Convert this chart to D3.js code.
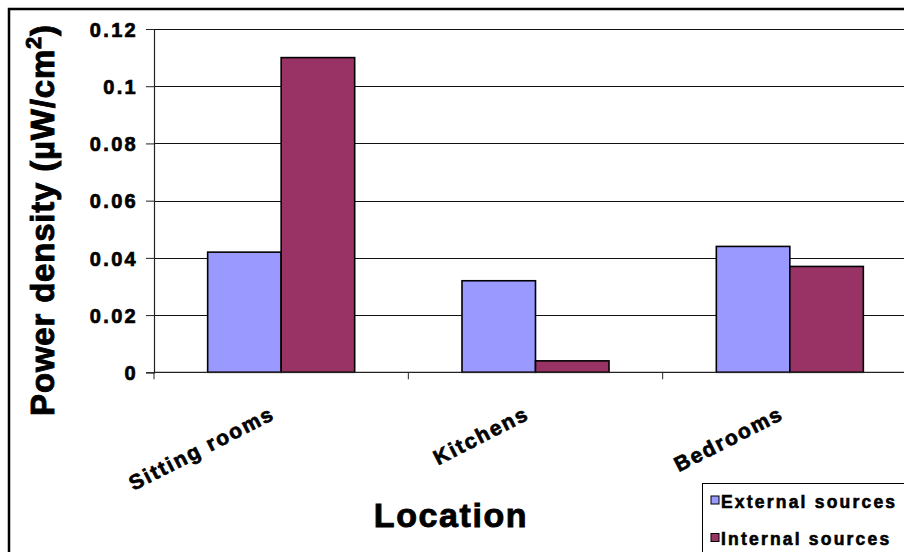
<!DOCTYPE html>
<html>
<head>
<meta charset="utf-8">
<script src="https://cdn.jsdelivr.net/npm/d3@7/dist/d3.min.js"></script>
<style>
  html, body { margin: 0; padding: 0; background: #fff; }
  svg { display: block; font-family: "Liberation Sans", Arial, sans-serif; }
  .heavy { font-weight: bold; fill: #000; stroke: #000; paint-order: stroke; }
</style>
</head>
<body>
<svg id="chart" width="904" height="552"></svg>
<script>
// Power density by location and source
const categories = ["Sitting rooms", "Kitchens", "Bedrooms"];
const seriesNames = ["External sources", "Internal sources"];
const externalValues = [0.042, 0.032, 0.044];
const internalValues = [0.110, 0.004, 0.037];
const yTicks = [0, 0.02, 0.04, 0.06, 0.08, 0.1, 0.12];
const seriesColors = ["#9999FF", "#993366"];

const FONT = "Liberation Sans, Arial, sans-serif";
const svg = d3.select("#chart");

// outer chart frame
svg.append("rect")
  .attr("x", 9).attr("y", 9)
  .attr("width", 1000).attr("height", 1000)
  .attr("fill", "#fff").attr("stroke", "#000").attr("stroke-width", 2.5);

const plot = { left: 154, top: 29, right: 917, bottom: 372.3 };

const x = d3.scaleBand().domain(categories).range([plot.left, plot.right]).paddingInner(0).paddingOuter(0);
const x1 = d3.scaleBand().domain(seriesNames).range([0, x.bandwidth()]).paddingInner(0).paddingOuter(0.73);
const y = d3.scaleLinear().domain([0, 0.12]).range([plot.bottom, plot.top]);

// horizontal gridlines
svg.append("g")
  .selectAll("line")
  .data(yTicks.filter(d => d > 0))
  .join("line")
  .attr("x1", plot.left).attr("x2", plot.right)
  .attr("y1", d => Math.round(y(d)) + 0.5).attr("y2", d => Math.round(y(d)) + 0.5)
  .attr("stroke", "#111").attr("stroke-width", 1);

// bars
const rows = categories.map((c, i) => ({ cat: c, vals: [externalValues[i], internalValues[i]] }));
const groups = svg.append("g").selectAll("g")
  .data(rows).join("g")
  .attr("transform", d => `translate(${x(d.cat)},0)`);
groups.selectAll("rect")
  .data(d => d.vals.map((v, j) => ({ s: seriesNames[j], v, j })))
  .join("rect")
  .attr("x", d => x1(d.s))
  .attr("y", d => y(d.v))
  .attr("width", x1.bandwidth())
  .attr("height", d => y(0) - y(d.v))
  .attr("fill", d => seriesColors[d.j])
  .attr("stroke", "#000").attr("stroke-width", 1.6);

// y axis
const yAxis = d3.axisLeft(y).tickValues(yTicks).tickSize(8).tickPadding(8)
  .tickFormat(d => d === 0 ? "0" : String(+d.toFixed(2)));
const yg = svg.append("g").attr("transform", `translate(${plot.left},0)`).call(yAxis);
yg.attr("font-family", FONT).attr("font-size", 20);
yg.select(".domain").attr("stroke", "#222").attr("stroke-width", 1.2);
yg.selectAll(".tick line").attr("stroke", "#222");
yg.selectAll(".tick text")
  .attr("class", "heavy")
  .attr("dy", "0.36em")
  .style("font-size", "20px").style("letter-spacing", "2.3px").style("stroke-width", "0.7px");

// x axis with ticks on category boundaries
svg.append("line")
  .attr("x1", plot.left).attr("x2", plot.right)
  .attr("y1", plot.bottom).attr("y2", plot.bottom)
  .attr("stroke", "#222").attr("stroke-width", 1.2);
const bounds = categories.map(c => x(c)).concat([x(categories[categories.length - 1]) + x.bandwidth()]);
svg.append("g").selectAll("line")
  .data(bounds).join("line")
  .attr("x1", d => d).attr("x2", d => d)
  .attr("y1", plot.bottom).attr("y2", plot.bottom + 7)
  .attr("stroke", "#222");

// category labels
svg.append("g").selectAll("text")
  .data(categories).join("text")
  .attr("class", "heavy")
  .attr("transform", d => `translate(${x(d) + x.bandwidth() / 2 - 5},${plot.bottom + 46}) rotate(-27)`)
  .attr("text-anchor", "end")
  .style("font-size", "21px").style("letter-spacing", "1.9px").style("stroke-width", "0.7px")
  .text(d => d);

// axis titles
const yTitle = svg.append("text")
  .attr("class", "heavy")
  .attr("transform", `translate(54,220) rotate(-90)`)
  .attr("text-anchor", "middle")
  .style("font-size", "33px").style("letter-spacing", "0.8px").style("stroke-width", "0.9px");
yTitle.append("tspan").text("Power density (µW/cm");
yTitle.append("tspan").attr("dy", -13).style("font-size", "22px").text("2");
yTitle.append("tspan").attr("dy", 13).text(")");

svg.append("text")
  .attr("class", "heavy")
  .attr("x", 451).attr("y", 527)
  .attr("text-anchor", "middle")
  .style("font-size", "34px").style("letter-spacing", "1.6px").style("stroke-width", "0.9px")
  .text("Location");

// legend
const legend = svg.append("g");
legend.append("rect")
  .attr("x", 702.5).attr("y", 483.5).attr("width", 400).attr("height", 200)
  .attr("fill", "#fff").attr("stroke", "#000").attr("stroke-width", 1);
const items = legend.selectAll("g.item")
  .data(seriesNames).join("g").attr("class", "item")
  .attr("transform", (d, i) => `translate(711,${496 + i * 37.5})`);
items.append("rect")
  .attr("width", 8).attr("height", 8)
  .attr("fill", (d, i) => seriesColors[i])
  .attr("stroke", "#000").attr("stroke-width", 1);
items.append("text")
  .attr("class", "heavy")
  .attr("x", 10).attr("y", 11.5)
  .style("font-size", "17.5px").style("letter-spacing", "2.2px").style("stroke-width", "0.6px")
  .text(d => d);
</script>
</body>
</html>
